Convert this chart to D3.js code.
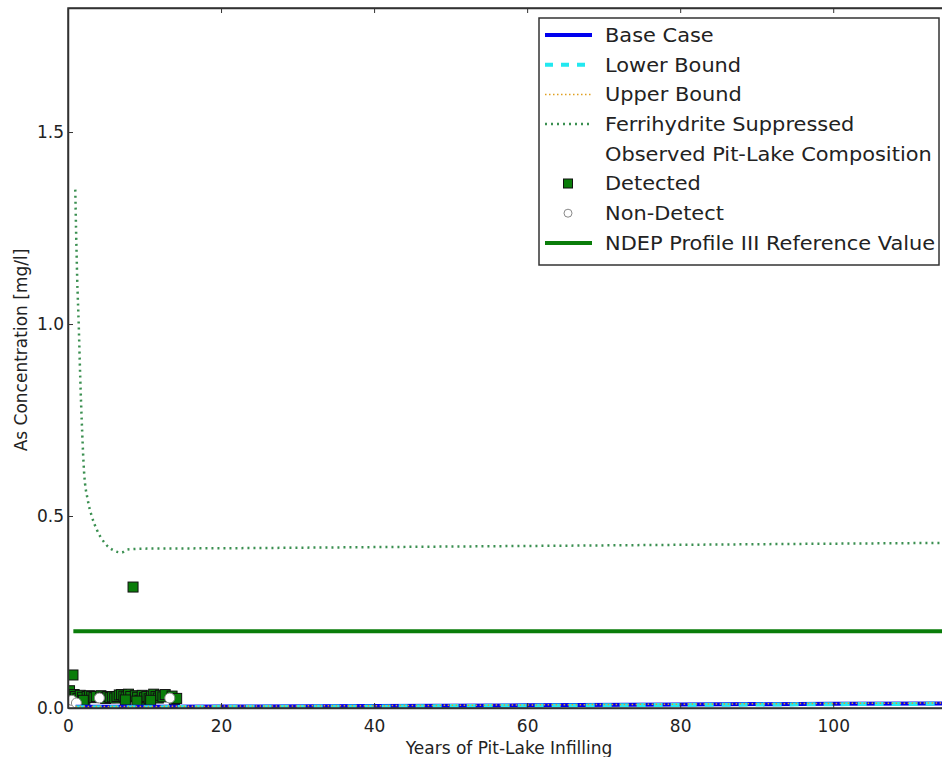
<!DOCTYPE html>
<html>
<head>
<meta charset="utf-8">
<script src="https://cdn.jsdelivr.net/npm/d3@7"></script>
<style>
  body { margin: 0; background: #fff; }
  text { font-family: "DejaVu Sans", sans-serif; fill: #222; }
</style>
</head>
<body>
<div id="chart"></div>
<script>
// data
var xTicks = [0, 20, 40, 60, 80, 100];
var yTicks = [0.0, 0.5, 1.0, 1.5];

var modelYears = [1, 5, 10, 20, 40, 60, 80, 100, 115];
var baseCase   = [0.003, 0.003, 0.003, 0.004, 0.005, 0.007, 0.009, 0.011, 0.012];
var lowerBound = [0.002, 0.002, 0.002, 0.003, 0.004, 0.006, 0.008, 0.010, 0.011];
var upperBound = [0.004, 0.004, 0.004, 0.005, 0.006, 0.008, 0.010, 0.012, 0.013];

var ferriYears  = [0.95, 1.05, 1.2, 1.4, 1.6, 1.85, 2.1, 2.6, 3.1, 3.8, 5.0, 6.0, 7.0, 7.8, 10, 20, 40, 60, 80, 100, 115];
var ferriValues = [1.35, 1.25, 1.12, 1.0, 0.86, 0.72, 0.615, 0.54, 0.50, 0.463, 0.425, 0.41, 0.405, 0.413, 0.415, 0.416, 0.419, 0.422, 0.425, 0.428, 0.43];

var ndepYears = [0.7, 115];
var ndepValue = 0.2;

var detectedYears  = [0.2, 0.4, 0.65, 0.8, 1.0, 1.3, 1.6, 1.9, 2.2, 2.5, 2.8, 3.1, 3.4, 3.7, 4.3, 4.6, 4.9, 5.2, 5.5, 5.8, 6.1, 6.4, 6.7, 7.0, 7.3, 7.6, 7.9, 8.2, 8.5, 8.8, 9.1, 9.4, 9.7, 10.0, 10.3, 10.6, 10.9, 11.2, 11.5, 11.8, 12.1, 12.4, 12.7, 13.6, 13.9, 14.2, 2.0, 7.5, 9.0, 10.8];
var detectedValues = [0.045, 0.03, 0.086, 0.035, 0.03, 0.025, 0.033, 0.028, 0.012, 0.03, 0.032, 0.03, 0.027, 0.03, 0.032, 0.028, 0.025, 0.03, 0.027, 0.029, 0.026, 0.03, 0.034, 0.035, 0.031, 0.029, 0.036, 0.03, 0.315, 0.032, 0.028, 0.02, 0.033, 0.027, 0.03, 0.024, 0.031, 0.036, 0.03, 0.026, 0.033, 0.029, 0.035, 0.031, 0.022, 0.025, 0.02, 0.021, 0.018, 0.02];

var nonDetectYears  = [0.5, 1.1, 4.1, 13.3];
var nonDetectValues = [0.02, 0.013, 0.026, 0.026];

var legendLabels = ["Base Case", "Lower Bound", "Upper Bound", "Ferrihydrite Suppressed",
  "Observed Pit-Lake Composition", "Detected", "Non-Detect", "NDEP Profile III Reference Value"];

var svgWidth = 942, svgHeight = 757;
var margin = { top: 8, left: 68 };
var chartWidth = 880;   // right spine falls just past the picture edge
var chartHeight = 700;

var svg = d3.select("#chart").append("svg")
    .attr("width", svgWidth)
    .attr("height", svgHeight);

var chartGroup = svg.append("g")
    .attr("transform", `translate(${margin.left}, ${margin.top})`);

var x = d3.scaleLinear().domain([0, 115]).range([0, chartWidth]);
var y = d3.scaleLinear().domain([0, 1.823]).range([chartHeight, 0]);

svg.append("defs").append("clipPath").attr("id", "clip")
  .append("rect").attr("width", chartWidth).attr("height", chartHeight);

var plot = chartGroup.append("g").attr("clip-path", "url(#clip)");

var line = d3.line().x(d => x(d[0])).y(d => y(d[1]));

function zip(a, b) { return a.map((v, i) => [v, b[i]]); }

// NDEP reference
plot.append("path")
  .datum(ndepYears.map(t => [t, ndepValue]))
  .attr("d", line).attr("fill", "none")
  .attr("stroke", "#0a7d0a").attr("stroke-width", 4);

// ferrihydrite suppressed
plot.append("path")
  .datum(zip(ferriYears, ferriValues))
  .attr("d", line.curve(d3.curveMonotoneX)).attr("fill", "none")
  .attr("stroke", "#3a8f50").attr("stroke-width", 2.5)
  .attr("stroke-dasharray", "2,4");
line.curve(d3.curveLinear);

// detected
plot.append("g").selectAll("rect")
  .data(zip(detectedYears, detectedValues))
  .enter().append("rect")
  .attr("x", d => x(d[0]) - 5).attr("y", d => y(d[1]) - 5)
  .attr("width", 10).attr("height", 10)
  .attr("fill", "#0a7d0a").attr("stroke", "#111").attr("stroke-width", 1);

// non-detect
plot.append("g").selectAll("circle")
  .data(zip(nonDetectYears, nonDetectValues))
  .enter().append("circle")
  .attr("cx", d => x(d[0])).attr("cy", d => y(d[1]))
  .attr("r", 5).attr("fill", "#fff").attr("stroke", "#888").attr("stroke-width", 1);

// model bands
plot.append("path").datum(zip(modelYears, baseCase))
  .attr("d", line).attr("fill", "none")
  .attr("stroke", "#0000ee").attr("stroke-width", 4);
plot.append("path").datum(zip(modelYears, lowerBound))
  .attr("d", line).attr("fill", "none")
  .attr("stroke", "#22e8f0").attr("stroke-width", 4)
  .attr("stroke-dasharray", "9,8");
plot.append("path").datum(zip(modelYears, upperBound))
  .attr("d", line).attr("fill", "none")
  .attr("stroke", "#e0a020").attr("stroke-width", 1.5)
  .attr("stroke-dasharray", "1.5,2.5");

// axes, matplotlib classic: ticks inside on all four sides
var tickFont = 17;
chartGroup.append("g")
  .attr("transform", `translate(0, ${chartHeight})`)
  .call(d3.axisBottom(x).tickValues(xTicks).tickFormat(d3.format("d")).tickSizeInner(-5).tickSizeOuter(0).tickPadding(12))
  .call(g => g.selectAll("text").attr("font-size", tickFont));
chartGroup.append("g")
  .call(d3.axisTop(x).tickValues(xTicks).tickFormat("").tickSizeInner(-5).tickSizeOuter(0));
chartGroup.append("g")
  .call(d3.axisLeft(y).tickValues(yTicks).tickFormat(d3.format(".1f")).tickSizeInner(-5).tickSizeOuter(0).tickPadding(4))
  .call(g => g.selectAll("text").attr("font-size", tickFont));
chartGroup.append("g")
  .attr("transform", `translate(${chartWidth}, 0)`)
  .call(d3.axisRight(y).tickValues(yTicks).tickFormat("").tickSizeInner(-5).tickSizeOuter(0));
chartGroup.selectAll(".domain").attr("stroke", "#333").attr("stroke-width", 1.5);
chartGroup.selectAll(".tick line").attr("stroke", "#333").attr("stroke-width", 1);
chartGroup.selectAll(".tick text").attr("fill", "#222");

chartGroup.append("rect")
  .attr("width", chartWidth).attr("height", chartHeight)
  .attr("fill", "none").attr("stroke", "#333").attr("stroke-width", 1.5);

// axis labels
svg.append("text")
  .attr("x", 509).attr("y", 754)
  .attr("text-anchor", "middle").attr("font-size", 17)
  .text("Years of Pit-Lake Infilling");
svg.append("text")
  .attr("transform", "translate(27, 350) rotate(-90)")
  .attr("text-anchor", "middle").attr("font-size", 17)
  .text("As Concentration [mg/l]");

// legend
var legend = svg.append("g").attr("transform", "translate(539, 18)");
legend.append("rect")
  .attr("width", 400).attr("height", 247)
  .attr("fill", "#fff").attr("stroke", "#333").attr("stroke-width", 1.5);

var rowY = d => 17 + d * 29.7;
var handles = [
  { stroke: "#0000ee", width: 4, dash: null },
  { stroke: "#22e8f0", width: 4, dash: "8,8" },
  { stroke: "#e0a020", width: 1.5, dash: "1.5,2.5" },
  { stroke: "#3a8f50", width: 2.5, dash: "2,4" },
  null, "square", "circle",
  { stroke: "#0a7d0a", width: 4, dash: null }
];

legendLabels.forEach(function(label, i) {
  var h = handles[i];
  var yy = rowY(i);
  if (h === "square") {
    legend.append("rect").attr("x", 29 - 4.5).attr("y", yy - 4.5)
      .attr("width", 9).attr("height", 9)
      .attr("fill", "#0a7d0a").attr("stroke", "#111");
  } else if (h === "circle") {
    legend.append("circle").attr("cx", 29).attr("cy", yy).attr("r", 4)
      .attr("fill", "#fff").attr("stroke", "#888");
  } else if (h) {
    legend.append("line")
      .attr("x1", 6).attr("x2", 53).attr("y1", yy).attr("y2", yy)
      .attr("stroke", h.stroke).attr("stroke-width", h.width)
      .attr("stroke-dasharray", h.dash);
  }
  var t = legend.append("text")
    .attr("x", 66).attr("y", yy).attr("dy", "0.36em")
    .attr("font-size", 19)
    .text(label);
  // the source glyphs run a little wider than DejaVu at this height
  var w = t.node().getComputedTextLength();
  t.attr("textLength", w * 1.1).attr("lengthAdjust", "spacingAndGlyphs");
});
</script>
</body>
</html>
